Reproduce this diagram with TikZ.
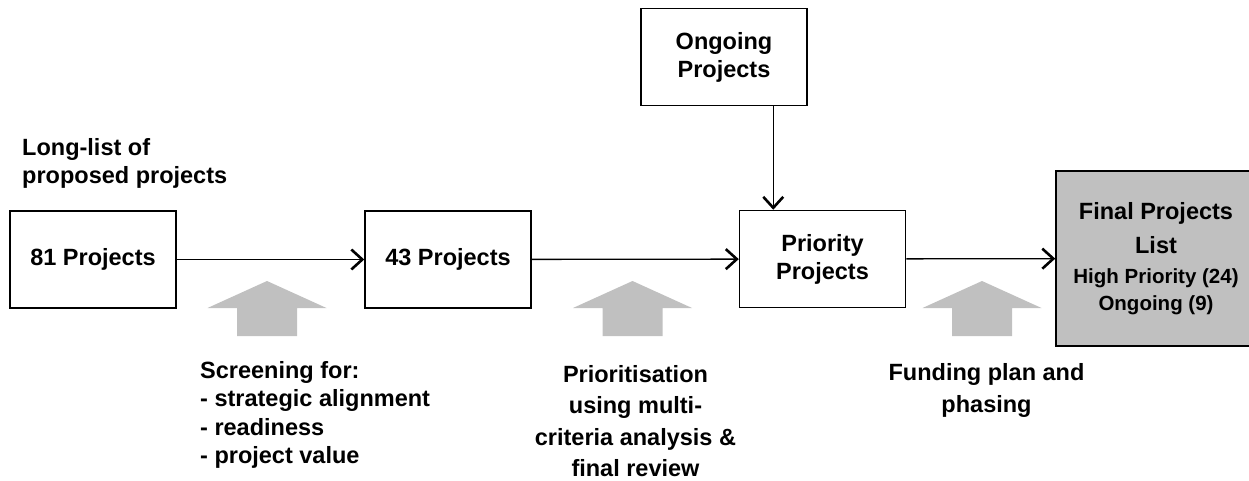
\documentclass[tikz,border=0pt]{standalone}
\usepackage{fontspec}
\setmainfont{Liberation Sans}
\usetikzlibrary{positioning,arrows.meta,calc}
\definecolor{shadegray}{HTML}{C0C0C0}

\tikzset{
  stage/.style={draw, line width=1.5pt, minimum width=166pt, minimum height=97pt, align=center, inner sep=0pt},
  finalbox/.style={stage, fill=shadegray, minimum width=200pt, minimum height=175pt},
  link/.style={-{Straight Barb[length=11pt,width=20pt,line width=2.6pt]}, line width=1.3pt},
  note/.style={inner sep=0pt, anchor=base west, align=left},
  push/.style={fill=shadegray}
}

\begin{document}
\begin{tikzpicture}[x=1pt,y=-1pt,font=\fontsize{23.5pt}{28pt}\selectfont\bfseries]
\useasboundingbox (0,0) rectangle (1249,481);

% boxes
\node[stage] (n81) at (93,259.5) {81 Projects};
\node[stage] (n43) at (448,259.5) {43 Projects};
\node[stage] (prio) at (822.5,259) {Priority\\Projects};
\node[stage] (ongoing) at (724,57) {Ongoing\\Projects};
\node[finalbox] (final) at (1156,258.5) {Final Projects\\[6pt]List\\[2pt]{\fontsize{20.5pt}{25pt}\selectfont High Priority (24)}\\[-1pt]{\fontsize{20.5pt}{25pt}\selectfont Ongoing (9)}};

% flow
\draw[link] (n81) -- (n43);
\draw[link] (n43) -- (prio);
\draw[link] (prio) -- (final);
\coordinate (drop) at ($(ongoing.south)!0.5!(prio.north)$);
\draw[link] (ongoing.south -| drop) -- (prio.north -| drop);

% grey push arrows
\foreach \cx in {267,632.5,982}
  \fill[push] (\cx-30,336) -- (\cx-30,308) -- (\cx-59.5,308) -- (\cx,281)
    -- (\cx+59.5,308) -- (\cx+30,308) -- (\cx+30,336) -- cycle;

% texts (placed at the baseline of the last line)
\node[note] (longlist) at (22,183) {Long-list of\\proposed projects};
\node[note, font=\fontsize{23.5pt}{28.5pt}\selectfont\bfseries] (screen) at (200,463.5)
  {Screening for:\\- strategic alignment\\- readiness\\- project value};
\node[note, anchor=base, align=center, font=\fontsize{23.5pt}{31.5pt}\selectfont\bfseries] (rank) at (635.5,476.5)
  {Prioritisation\\using multi-\\criteria analysis \&\\final review};
\node[note, anchor=base, align=center, font=\fontsize{23.5pt}{32pt}\selectfont\bfseries] (funding) at (986.5,412)
  {Funding plan and\\phasing};
\end{tikzpicture}
\end{document}
